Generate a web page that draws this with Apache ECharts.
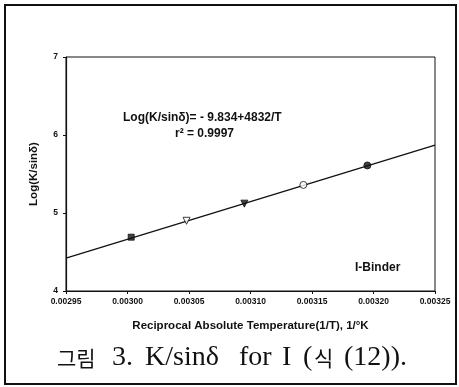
<!DOCTYPE html>
<html>
<head>
<meta charset="utf-8">
<script src="https://cdn.jsdelivr.net/npm/echarts@6/dist/echarts.min.js"></script>
<style>
  html, body { margin: 0; padding: 0; background: #fff; }
  #frame { position: absolute; left: 4px; top: 4px; width: 449px; height: 377px; border: 2px solid #111; }
  #chart { position: absolute; left: 0; top: 0; width: 459px; height: 387px; }
</style>
</head>
<body>
<div id="frame"></div>
<div id="chart"></div>
<script>
// measured points (1/T, Log(K/sinδ)), one marker style each
const invT = [0.003003, 0.003048, 0.003095, 0.003143, 0.003195];
const logK = [4.69, 4.90, 5.12, 5.36, 5.61];
const markers = ["rect", "triangle", "triangle", "circle", "circle"];
const filled = [true, false, true, false, true];

// regression line end points
const fitX = [0.00295, 0.00325];
const fitY = [4.42, 5.87];

const xTicks = ["0.00295", "0.00300", "0.00305", "0.00310", "0.00315", "0.00320", "0.00325"];

// caption words, spread out like the scanned figure
const captionWords = ["그림", "3.", "K/sinδ", "for", "I", "(", "식", "(12))."];
const captionX = [57, 112, 145, 239, 282, 303, 314, 344];
const captionHangul = [true, false, false, false, false, false, true, false];

const chart = echarts.init(document.getElementById("chart"));

const labelFont = { fontFamily: "Liberation Sans, Arial", fontWeight: "bold", color: "#111" };

const pointSeries = invT.map((x, i) => ({
  type: "scatter",
  data: [[x, logK[i]]],
  symbol: markers[i],
  symbolSize: i === 0 ? 6 : 7,
  symbolRotate: markers[i] === "triangle" ? 180 : 0,
  itemStyle: {
    color: filled[i] ? "#111" : "#fff",
    borderColor: "#111",
    borderWidth: 1
  },
  z: 4
}));

const option = {
  animation: false,
  grid: {
    left: 66,
    right: 24,
    top: 57,
    bottom: 96,
    show: true,
    borderColor: "#111",
    borderWidth: 1
  },
  xAxis: {
    type: "value",
    min: 0.00295,
    max: 0.00325,
    interval: 0.00005,
    name: "Reciprocal Absolute Temperature(1/T), 1/°K",
    nameLocation: "middle",
    nameGap: 29,
    nameTextStyle: Object.assign({ fontSize: 11.5 }, labelFont),
    axisLine: { lineStyle: { color: "#111", width: 1.2 } },
    axisTick: { show: true, length: 3, lineStyle: { color: "#111" } },
    axisLabel: Object.assign({
      fontSize: 8.5,
      margin: 6,
      formatter: (v) => xTicks[Math.round((v - 0.00295) / 0.00005)]
    }, labelFont),
    splitLine: { show: false }
  },
  yAxis: {
    type: "value",
    min: 4,
    max: 7,
    interval: 1,
    name: "Log(K/sinδ)",
    nameLocation: "middle",
    nameGap: 26,
    nameTextStyle: Object.assign({ fontSize: 11.5 }, labelFont),
    axisLine: { show: true, lineStyle: { color: "#111", width: 1.2 } },
    axisTick: { show: true, length: 3, lineStyle: { color: "#111" } },
    axisLabel: Object.assign({ fontSize: 8.5, margin: 8 }, labelFont),
    splitLine: { show: false }
  },
  series: [
    {
      type: "line",
      data: fitX.map((x, i) => [x, fitY[i]]),
      showSymbol: false,
      lineStyle: { color: "#111", width: 1.3 },
      z: 2
    }
  ].concat(pointSeries),
  graphic: [
    {
      type: "text",
      left: 123,
      top: 112,
      style: { text: "Log(K/sinδ)= - 9.834+4832/T", font: "bold 12px Liberation Sans, Arial", fill: "#111" }
    },
    {
      type: "text",
      left: 175,
      top: 128,
      style: { text: "r² = 0.9997", font: "bold 12px Liberation Sans, Arial", fill: "#111" }
    },
    {
      type: "text",
      left: 355,
      top: 262,
      style: { text: "I-Binder", font: "bold 12px Liberation Sans, Arial", fill: "#111" }
    }
  ].concat(captionWords.map((w, i) => ({
    type: "text",
    left: captionX[i],
    top: captionHangul[i] ? 348 : 344,
    style: {
      text: w,
      font: captionHangul[i]
        ? "21px 'Noto Sans CJK KR', sans-serif"
        : "28px 'Liberation Serif', 'DejaVu Serif', serif",
      fill: "#111"
    }
  })))
};

chart.setOption(option);
</script>
</body>
</html>
